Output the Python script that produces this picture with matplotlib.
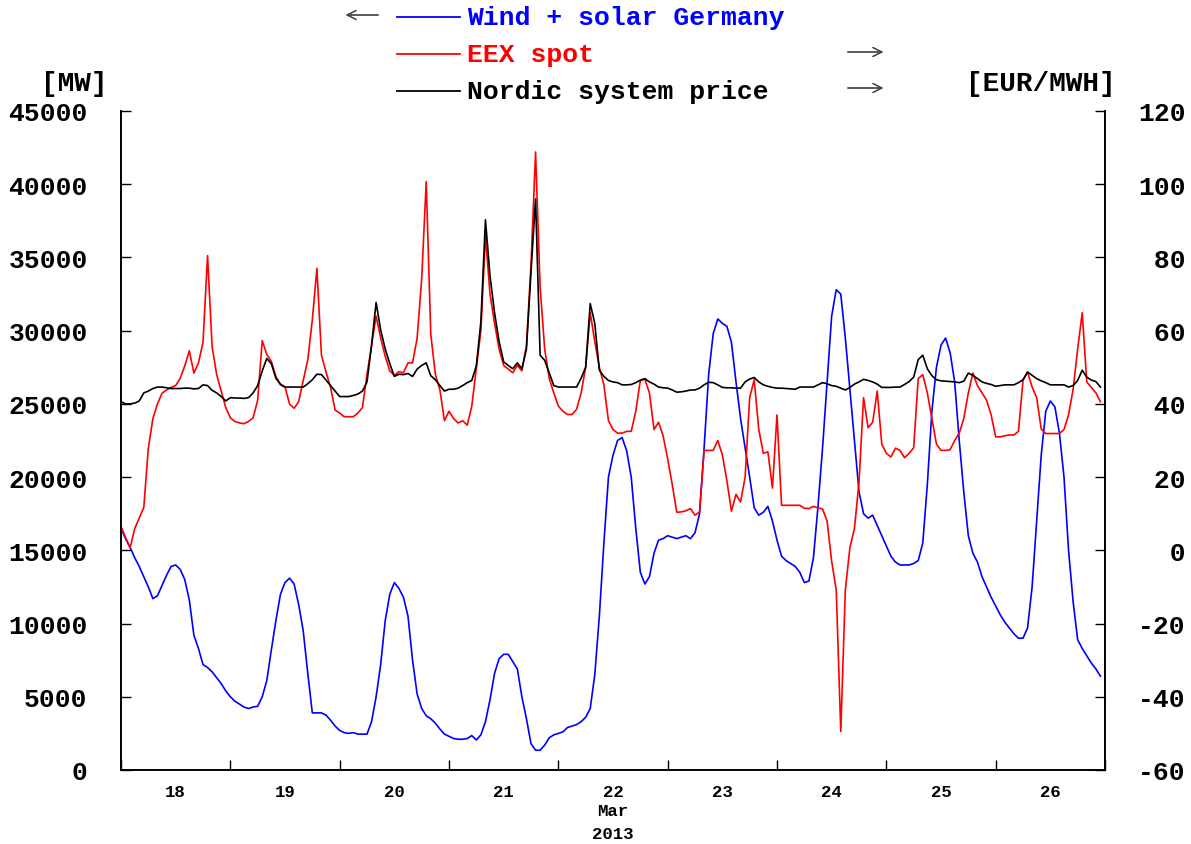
import pandas as pd
import matplotlib
matplotlib.use("Agg")
import matplotlib.pyplot as plt
import matplotlib.dates as mdates
import matplotlib.ticker as ticker
from matplotlib.lines import Line2D

# hourly values, starting 2013-03-18 00:00
wind_solar = [
    16500, 15800, 15200, 14500, 13900, 13200, 12500, 11700, 11900, 12600, 13300, 13900,
    14000, 13700, 13000, 11600, 9200, 8300, 7200, 7000, 6700, 6300, 5900, 5400,
    5000, 4700, 4500, 4300, 4200, 4300, 4350, 5000, 6100, 8200, 10200, 12000,
    12800, 13100, 12700, 11300, 9500, 6600, 3900, 3900, 3900, 3750, 3400, 3000,
    2700, 2550, 2500, 2550, 2450, 2450, 2450, 3300, 5000, 7200, 10200, 12000,
    12800, 12400, 11800, 10500, 7500, 5200, 4200, 3700, 3500, 3200, 2800, 2450,
    2300, 2150, 2100, 2100, 2150, 2350, 2050, 2400, 3300, 4800, 6600, 7600,
    7900, 7900, 7400, 6900, 5000, 3500, 1800, 1350, 1350, 1700, 2200, 2400,
    2500, 2600, 2900, 3000, 3100, 3300, 3600, 4200, 6500, 10500, 15500, 20000,
    21500, 22500, 22700, 21800, 20000, 16500, 13500, 12700, 13200, 14800, 15700, 15800,
    16000, 15900, 15800, 15900, 16000, 15800, 16200, 17500, 22000, 27000, 29800, 30800,
    30500, 30300, 29200, 26500, 24000, 22000, 20000, 17900, 17400, 17600, 18000, 17000,
    15700, 14600, 14300, 14100, 13900, 13500, 12800, 12900, 14500, 18000, 22000, 26500,
    31000, 32800, 32500, 29500, 26000, 22500, 19000, 17500, 17200, 17400, 16700, 16000,
    15300, 14600, 14200, 14000, 14000, 14000, 14100, 14300, 15500, 19500, 24500, 27500,
    29000, 29500, 28500, 26500, 22500, 19000, 16000, 14800, 14200, 13200, 12500, 11800,
    11200, 10600, 10100, 9700, 9300, 9000, 9000, 9700, 12500, 17000, 21500, 24500,
    25200, 24800, 23000, 20000, 15000, 11500, 8900, 8300, 7800, 7300, 6900, 6400,
]

eex_spot = [
    6.5, 3.5, 0.7, 5.9, 8.8, 11.7, 27.9, 36, 40, 42.9, 43.8, 44.5,
    45, 47, 50.4, 54.5, 48.4, 51.2, 56.8, 80.5, 55.6, 48, 43.5, 39,
    36.2, 35.2, 34.8, 34.6, 35.2, 36.2, 41, 57.3, 53.5, 51.6, 47.5, 45.2,
    44.6, 40, 38.8, 40.6, 46.4, 52, 63, 77, 53.3, 48.7, 44.5, 38.3,
    37.5, 36.5, 36.5, 36.5, 37.5, 39, 48, 56, 64, 58, 53, 49,
    47.8, 48.8, 48.5, 51.2, 51.2, 57.9, 74, 100.7, 59, 48.1, 43.8, 35.4,
    38, 36, 34.8, 35.4, 34.2, 39.4, 49.8, 60, 86, 70, 62, 55,
    50.5, 49.5, 48.5, 50.5, 49, 56, 78, 108.8, 72, 55, 47, 43,
    39.4, 38, 37.1, 37.1, 38.5, 43, 50, 64.9, 57, 50, 45.2, 35.4,
    33, 32, 32, 32.5, 32.5, 38, 46.4, 46.7, 43, 33, 35, 31.3,
    25, 18, 10.4, 10.5, 10.8, 11.4, 9.6, 10.5, 27.3, 27.3, 27.3, 30,
    26.1, 19, 10.7, 15.3, 13.2, 20, 41.7, 46.6, 33, 26.5, 26.9, 17,
    37, 12.3, 12.3, 12.3, 12.3, 12.3, 11.5, 11.4, 12, 11.6, 11.3, 8,
    -3, -10.8, -49.5, -10.8, 0.7, 6, 18.6, 41.7, 33.5, 35, 43.5, 29,
    26.5, 25.5, 27.9, 27.3, 25.3, 26.5, 28, 46.9, 48, 43, 36, 29,
    27.3, 27.3, 27.5, 30, 32, 36, 43, 48.4, 45, 43, 41, 37,
    31, 31, 31.3, 31.5, 31.5, 32.5, 46.4, 48.7, 44.6, 41.7, 33.1, 31.9,
    31.9, 31.9, 31.9, 33, 37, 44, 55, 64.9, 46, 44.5, 43, 40.6,
]

nordic = [
    40.6, 40, 40, 40.2, 40.8, 43, 43.5, 44.2, 44.6, 44.6, 44.4, 44.2,
    44.2, 44.2, 44.3, 44.3, 44.1, 44.2, 45.2, 45, 43.7, 43, 42, 40.8,
    41.7, 41.6, 41.6, 41.5, 41.7, 43, 45, 49, 52.4, 51, 47, 45.4,
    44.6, 44.6, 44.6, 44.6, 44.6, 45.5, 46.6, 48.1, 48, 46.5, 45, 43.5,
    42, 42, 42, 42.3, 42.7, 43.5, 46, 56, 67.7, 60.2, 55, 51,
    47.5, 48.1, 48, 48.3, 47.5, 49.5, 50.5, 51.2, 47.7, 46.6, 45, 43.5,
    44, 44, 44.3, 45, 45.8, 46.4, 50.4, 62.5, 90.3, 75, 64.9, 57,
    51.5, 50.5, 49.6, 51.2, 49.6, 55, 76, 96, 53.3, 51.9, 48.5, 45,
    44.6, 44.6, 44.6, 44.6, 44.6, 47, 50, 67.4, 62, 49.2, 47.5, 46.4,
    46, 45.8, 45.2, 45.2, 45.3, 45.8, 46.5, 46.9, 46, 45.4, 44.6, 44.4,
    44.3, 43.8, 43.2, 43.3, 43.5, 43.8, 43.8, 44.3, 45.2, 45.9, 45.8, 45.2,
    44.5, 44.4, 44.4, 44.3, 44.3, 46, 46.8, 47.2, 46, 45.2, 44.8, 44.5,
    44.3, 44.3, 44.2, 44.1, 44, 44.6, 44.6, 44.6, 44.6, 45.2, 45.8, 45.5,
    45, 44.8, 44.3, 43.8, 44.5, 45.4, 46, 46.7, 46.4, 46, 45.4, 44.5,
    44.5, 44.5, 44.6, 44.6, 45.3, 46.1, 47.3, 52.1, 53.3, 49.6, 47.7, 46.6,
    46.3, 46.2, 46.1, 46, 45.8, 46.2, 48.4, 47.8, 46.9, 46, 45.6, 45.3,
    44.8, 45, 45.2, 45.2, 45.2, 45.8, 46.6, 48.7, 47.8, 46.9, 46.3, 45.8,
    45.2, 45.2, 45.2, 45.2, 44.6, 45, 46.4, 49.2, 47.3, 46.5, 46.1, 44.6,
]

times = pd.date_range("2013-03-18", periods=len(wind_solar), freq="h")

FONT = "Liberation Mono"
W, H = 1191, 845

fig = plt.figure(figsize=(W / 100, H / 100), dpi=100)
ax = fig.add_axes([121 / W, 1 - 771 / H, (1105 - 121) / W, (771 - 112) / H])
ax2 = ax.twinx()

ax.plot(times, wind_solar, color="#0000ff", lw=1.2)
ax2.plot(times, eex_spot, color="#ff0000", lw=1.2)
ax2.plot(times, nordic, color="black", lw=1.2)

ax.set_xlim(pd.Timestamp("2013-03-18"), pd.Timestamp("2013-03-27"))
ax.set_ylim(0, 45000)
ax2.set_ylim(-60, 120)
ax.set_yticks(range(0, 45001, 5000))
ax2.set_yticks(range(-60, 121, 20))
# right-justify the price labels in the monospace font
ax2.yaxis.set_major_formatter(ticker.FuncFormatter(lambda v, p: f"{int(v):>3d}"))

# day labels at noon, small ticks at midnight
ax.xaxis.set_major_locator(mdates.HourLocator(byhour=12))
ax.xaxis.set_major_formatter(mdates.DateFormatter("%d"))
ax.xaxis.set_minor_locator(mdates.DayLocator())
ax.tick_params(axis="x", which="major", length=0, pad=10)
ax.tick_params(axis="x", which="minor", direction="in", length=7, width=1)
ax.tick_params(axis="y", direction="in", length=7, width=1, pad=24)
ax2.tick_params(axis="y", direction="in", length=7, width=1, pad=24)

for lab in ax.get_xticklabels():
    lab.set_fontfamily(FONT)
    lab.set_fontweight("bold")
    lab.set_fontsize(12.5)
for lab in ax.get_yticklabels() + ax2.get_yticklabels():
    lab.set_fontfamily(FONT)
    lab.set_fontweight("bold")
    lab.set_fontsize(19)

for a in (ax, ax2):
    a.spines["top"].set_visible(False)
    for s in ("left", "right", "bottom"):
        a.spines[s].set_linewidth(1.2)

def fx(px):
    return px / W

def fy(py):
    return 1 - py / H

fig.text(fx(613), fy(812), "Mar", family=FONT, weight="bold", size=12.5, ha="center", va="center")
fig.text(fx(613), fy(835), "2013", family=FONT, weight="bold", size=12.5, ha="center", va="center")

fig.text(fx(74), fy(84), "[MW]", family=FONT, weight="bold", size=20, ha="center", va="center")
fig.text(fx(1041), fy(84), "[EUR/MWH]", family=FONT, weight="bold", size=20, ha="center", va="center")

# legend at the top
legend = [("Wind + solar Germany", "#0000ff", 18),
          ("EEX spot", "#ff0000", 55),
          ("Nordic system price", "black", 92)]
for name, col, py in legend:
    fig.add_artist(Line2D([fx(397), fx(460)], [fy(py), fy(py)], color=col, lw=1.3,
                          transform=fig.transFigure))
    fig.text(fx(467), fy(py), name, family=FONT, weight="bold", size=19,
             color=col, ha="left", va="center")

arrow = dict(arrowstyle="->", color="#444444", lw=0.9, mutation_scale=16)
fig.add_artist(plt.annotate("", xy=(fx(343), fy(16)), xytext=(fx(381), fy(16)),
                            xycoords="figure fraction", arrowprops=arrow))
for py in (53, 89):
    fig.add_artist(plt.annotate("", xy=(fx(886), fy(py)), xytext=(fx(845), fy(py)),
                                xycoords="figure fraction", arrowprops=arrow))

fig.savefig("out.png", dpi=100)
